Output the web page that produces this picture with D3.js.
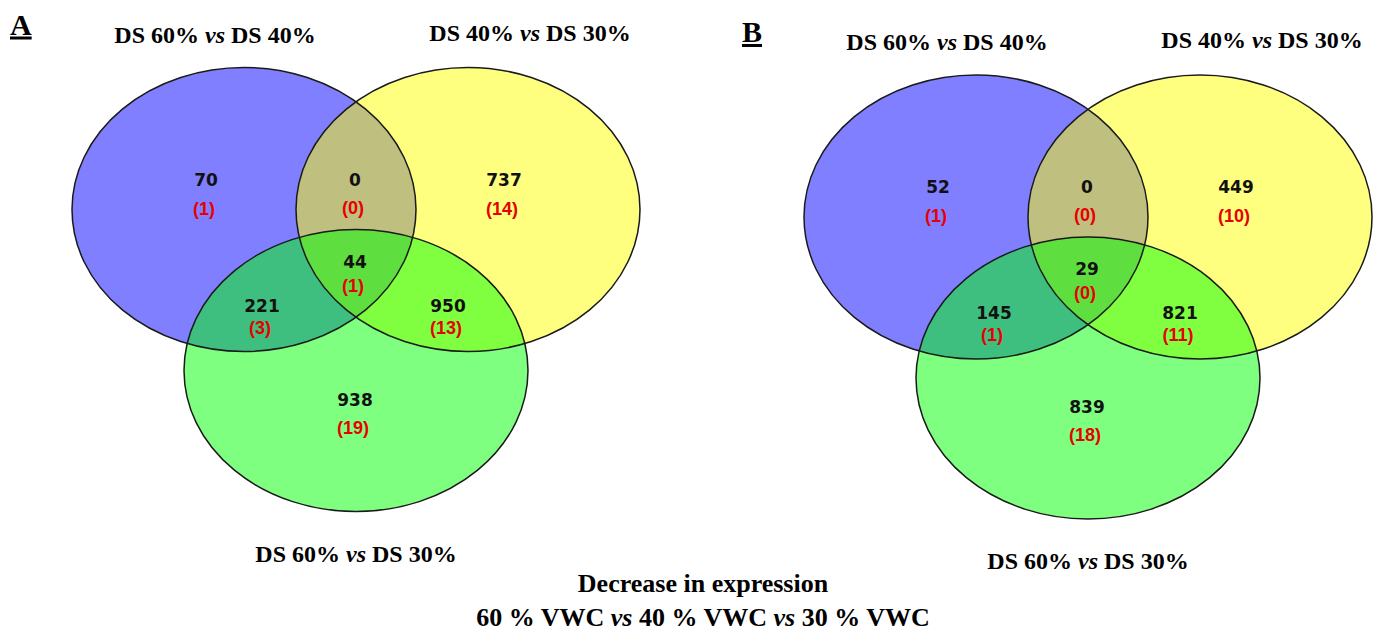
<!DOCTYPE html>
<html>
<head>
<meta charset="utf-8">
<script src="https://d3js.org/d3.v7.min.js"></script>
<style>
  body { margin: 0; background: #fff; }
  .title { font-family: "Liberation Serif", "Times New Roman", serif; font-weight: bold; fill: #000; }
  .num { font-family: "DejaVu Sans", sans-serif; font-weight: bold; font-size: 17px; }
  .red { font-family: "Liberation Sans", Arial, sans-serif; font-weight: bold; font-size: 18px; }
</style>
</head>
<body>
<div id="chart"></div>
<script>
// set names (same three comparisons in both panels)
const setNames = ["DS 60% vs DS 40%", "DS 40% vs DS 30%", "DS 60% vs DS 30%"]
const panelNames = ["A", "B"]
// regions: only 1, only 2, only 3, 1&2, 1&3, 2&3, 1&2&3
const regions = ["1", "2", "3", "12", "13", "23", "123"]
const countsA = [70, 737, 938, 0, 221, 950, 44]
const redA = [1, 14, 19, 0, 3, 13, 1]
const countsB = [52, 449, 839, 0, 145, 821, 29]
const redB = [1, 10, 18, 0, 1, 11, 0]
const captionLines = ["Decrease in expression", "60 % VWC vs 40 % VWC vs 30 % VWC"]

width = 1379
height = 637

svg = d3.select('#chart')
    .append('svg')
    .attr('width', width)
    .attr('height', height)

// ellipse layout in panel units (origin = between blue and yellow centres)
ellipses = [
  {cx: -112, cy: 0, rx: 172, ry: 142, color: "#0000ff"},
  {cx: 112, cy: 0, rx: 172, ry: 142, color: "#ffff00"},
  {cx: 0, cy: 161, rx: 172, ry: 141, color: "#00ff00"}
]
// label anchors for each region (number x, number y, gap to red count)
anchors = {
  "1": [-150, -30, 29], "2": [148, -30, 29], "3": [-1, 190, 28],
  "12": [-1, -30, 28], "13": [-94, 96, 22], "23": [92, 96, 22], "123": [-1, 52, 24]
}

panels = [
  {name: panelNames[0], ox: 356, oy: 209.5, counts: countsA, red: redA},
  {name: panelNames[1], ox: 1088, oy: 217, counts: countsB, red: redB}
]

panels.forEach(function(p){
  x = d3.scaleLinear().domain([0, 1]).range([p.ox, p.ox + 1])
  y = d3.scaleLinear().domain([0, 1]).range([p.oy, p.oy + 1])
  g = svg.append('g')

  g.selectAll('.fill')
    .data(ellipses)
    .enter().append('ellipse')
    .attr('cx', d => x(d.cx))
    .attr('cy', d => y(d.cy))
    .attr('rx', d => d.rx)
    .attr('ry', d => d.ry)
    .attr('fill', d => d.color)
    .attr('fill-opacity', 0.5)

  g.selectAll('.edge')
    .data(ellipses)
    .enter().append('ellipse')
    .attr('cx', d => x(d.cx))
    .attr('cy', d => y(d.cy))
    .attr('rx', d => d.rx)
    .attr('ry', d => d.ry)
    .attr('fill', 'none')
    .attr('stroke', '#1a1a1a')
    .attr('stroke-width', 1.5)

  regions.forEach(function(r, i){
    a = anchors[r]
    g.append('text')
      .attr('class', 'num')
      .attr('x', x(a[0])).attr('y', y(a[1]))
      .attr('text-anchor', 'middle')
      .attr('dominant-baseline', 'central')
      .attr('fill', '#111')
      .text(p.counts[i])
    g.append('text')
      .attr('class', 'red')
      .attr('x', x(a[0] - 2)).attr('y', y(a[1] + a[2]))
      .attr('text-anchor', 'middle')
      .attr('dominant-baseline', 'central')
      .attr('fill', '#e60000')
      .text('(' + p.red[i] + ')')
  })

  // set titles
  titlePos = [[-141, -167], [174, -169], [0, 352]]
  setNames.forEach(function(s, i){
    parts = s.split(' vs ')
    t = g.append('text')
      .attr('class', 'title')
      .attr('x', x(titlePos[i][0])).attr('y', y(titlePos[i][1]))
      .attr('text-anchor', 'middle')
      .style('font-size', '24px')
    t.append('tspan').text(parts[0] + ' ')
    t.append('tspan').style('font-style', 'italic').text('vs')
    t.append('tspan').text(' ' + parts[1])
  })

  // panel letter
  g.append('text')
    .attr('class', 'title')
    .attr('x', x(-346)).attr('y', y(-175))
    .style('font-size', '30px')
    .style('text-decoration', 'underline')
    .text(p.name)
})

// caption
cap = svg.append('g')
cap.append('text')
  .attr('class', 'title')
  .attr('x', 703).attr('y', 592)
  .attr('text-anchor', 'middle')
  .style('font-size', '26px')
  .text(captionLines[0])

capParts = captionLines[1].split(' vs ')
t2 = cap.append('text')
  .attr('class', 'title')
  .attr('x', 703).attr('y', 626)
  .attr('text-anchor', 'middle')
  .style('font-size', '26px')
capParts.forEach(function(c, i){
  if (i > 0) {
    t2.append('tspan').text(' ')
    t2.append('tspan').style('font-style', 'italic').text('vs')
    t2.append('tspan').text(' ')
  }
  t2.append('tspan').text(c)
})
</script>
</body>
</html>
